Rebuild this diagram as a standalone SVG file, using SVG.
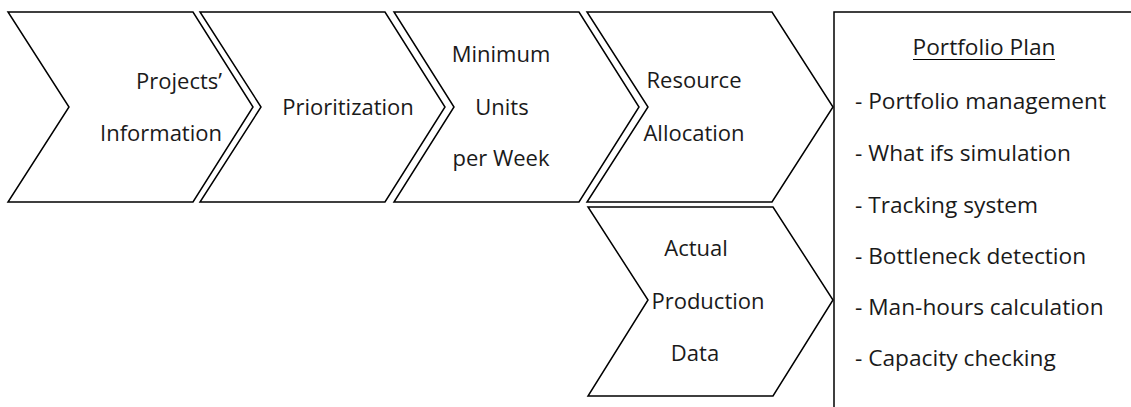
<svg xmlns="http://www.w3.org/2000/svg" width="1131" height="407" viewBox="0 0 1131 407">
<style>
.shape{fill:#fff;stroke:#000;stroke-width:1.5;stroke-linejoin:miter}
text{font-family:"Open Sans","Noto Sans","DejaVu Sans",sans-serif;font-size:22px;fill:#1a1a1a}
.p{font-size:22.7px}
.c{text-anchor:middle}
.r{text-anchor:end}
</style>
<rect width="1131" height="407" fill="#fff"/>
<g id="projects-information">
<polygon class="shape" points="8,12 193,12 253,107 193,202 8,202 69,107"/>
<text class="r" x="222" y="89">Projects’</text>
<text class="r" x="222" y="141">Information</text>
</g>
<g id="prioritization">
<polygon class="shape" points="200,12 385,12 445,107 385,202 200,202 261,107"/>
<text class="c" x="348" y="115">Prioritization</text>
</g>
<g id="minimum-units">
<polygon class="shape" points="394,12 579,12 639,107 579,202 394,202 454,107"/>
<text class="c" x="501" y="62">Minimum</text>
<text class="c" x="502" y="115">Units</text>
<text class="c" x="501" y="166">per Week</text>
</g>
<g id="resource-allocation">
<polygon class="shape" points="587,12 772,12 833,107 772,202 587,202 648,107"/>
<text class="c" x="694" y="88">Resource</text>
<text class="c" x="694" y="141">Allocation</text>
</g>
<g id="actual-production-data">
<polygon class="shape" points="588,207 773,207 833,300 773,396 588,396 648,300"/>
<text class="c" x="696" y="256">Actual</text>
<text class="c" x="708" y="309">Production</text>
<text class="c" x="695" y="361">Data</text>
</g>
<g id="portfolio-plan">
<path class="shape" d="M834,407 V12 H1131" fill="none"/>
<text class="c p" x="984" y="55">Portfolio Plan</text>
<line x1="913" y1="59.5" x2="1055" y2="59.5" stroke="#000" stroke-width="1"/>
<text class="p" x="855" y="109">- Portfolio management</text>
<text class="p" x="855" y="161">- What ifs simulation</text>
<text class="p" x="855" y="213">- Tracking system</text>
<text class="p" x="855" y="264">- Bottleneck detection</text>
<text class="p" x="855" y="315">- Man-hours calculation</text>
<text class="p" x="855" y="366">- Capacity checking</text>
</g>
<g id="connectors"></g>
</svg>
